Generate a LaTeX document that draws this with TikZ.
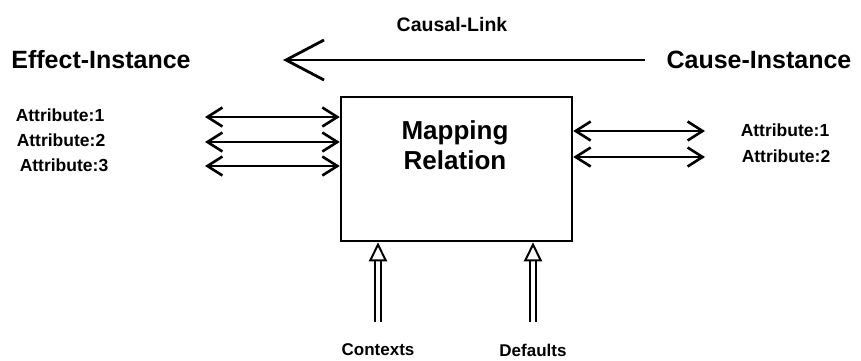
\documentclass[tikz,border=0pt]{standalone}
\usepackage{fontspec}
\setmainfont{Liberation Sans}
\usetikzlibrary{arrows.meta}
\begin{document}
\begin{tikzpicture}[x=1pt,y=-1pt,
  big/.style={font=\bfseries\fontsize{25}{30}\selectfont, inner sep=0pt},
  attr/.style={font=\bfseries\fontsize{17.5}{21}\selectfont, inner sep=0pt},
  barb/.tip={Straight Barb[length=15pt,width=19pt,line width=2.6pt]},
  dbl/.style={line width=2pt, barb-barb},
  up/.style={double, double distance=3.5pt, line width=1.8pt, -{Triangle[open,length=19pt,width=18pt,line width=2pt]}},
]
\useasboundingbox (0,0) rectangle (861,360);
\node[big] (eff) at (101,60) {Effect-Instance};
\node[big] (cau) at (759,60) {Cause-Instance};
\node[attr, font=\bfseries\fontsize{19.5}{23}\selectfont] (cl) at (452,25) {Causal-Link};
\coordinate (clstart) at (645,60);
\coordinate (clend) at (283,60);
\draw[line width=2pt, -{Straight Barb[length=38pt,width=40pt,line width=2.8pt]}] (clstart) -- (clend);

\node[draw, line width=2.5pt, minimum width=231pt, minimum height=144pt, inner sep=0pt] (map) at (456.5,169) {};
\node[font=\bfseries\fontsize{26}{30}\selectfont, align=center, inner sep=0pt] (mt) at (455,145) {Mapping\\Relation};

\node[attr] (la1) at (60,115) {Attribute:1};
\node[attr] (la2) at (61,140) {Attribute:2};
\node[attr] (la3) at (64,165) {Attribute:3};
\coordinate (l1) at (205,117);
\coordinate (l2) at (205,142);
\coordinate (l3) at (205,166);
\draw[dbl] (l1) -- (l1 -| map.west);
\draw[dbl] (l2) -- (l2 -| map.west);
\draw[dbl] (l3) -- (l3 -| map.west);

\node[attr] (ra1) at (785,130) {Attribute:1};
\node[attr] (ra2) at (786,156) {Attribute:2};
\coordinate (r1) at (705,131);
\coordinate (r2) at (705,157);
\draw[dbl] (r1 -| map.east) -- (r1);
\draw[dbl] (r2 -| map.east) -- (r2);

\node[attr, font=\bfseries\fontsize{17}{20}\selectfont] (ctx) at (378,350) {Contexts};
\node[attr, font=\bfseries\fontsize{17}{20}\selectfont] (def) at (533,350) {Defaults};
\draw[up] ([yshift=22pt]ctx.north) -- (ctx.north |- map.south);
\draw[up] ([yshift=22pt]def.north) -- (def.north |- map.south);
\end{tikzpicture}
\end{document}
